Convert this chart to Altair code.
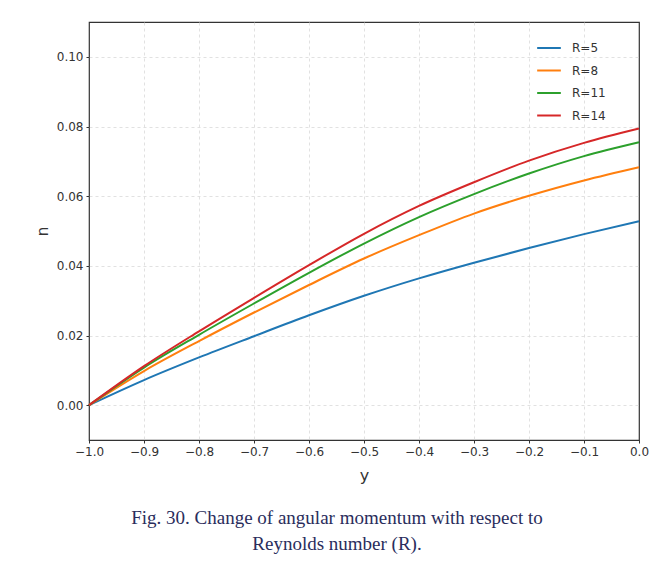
import altair as alt
import pandas as pd

y_vals = [-1.0, -0.9, -0.8, -0.7, -0.6, -0.5, -0.4, -0.3, -0.2, -0.1, 0.0]
n_R5 = [0.0, 0.0072, 0.0137, 0.0198, 0.0258, 0.0314, 0.0364, 0.0409, 0.0451, 0.0491, 0.0528]
n_R8 = [0.0, 0.0098, 0.0184, 0.0266, 0.0345, 0.0421, 0.0488, 0.0550, 0.0601, 0.0645, 0.0683]
n_R11 = [0.0, 0.0108, 0.0202, 0.0292, 0.0380, 0.0464, 0.0540, 0.0606, 0.0665, 0.0715, 0.0755]
n_R14 = [0.0, 0.0112, 0.0212, 0.0308, 0.0402, 0.0492, 0.0572, 0.0640, 0.0702, 0.0753, 0.0794]
series = ["R=5", "R=8", "R=11", "R=14"]
colors = ["#1f77b4", "#ff7f0e", "#2ca02c", "#d62728"]
x_ticks = [-1.0, -0.9, -0.8, -0.7, -0.6, -0.5, -0.4, -0.3, -0.2, -0.1, 0.0]
y_ticks = [0.0, 0.02, 0.04, 0.06, 0.08, 0.10]

rows = []
for name, vals in zip(series, [n_R5, n_R8, n_R11, n_R14]):
    for xv, nv in zip(y_vals, vals):
        rows.append({"y": xv, "n": nv, "R": name})
df = pd.DataFrame(rows)

edge_grid = {"condition": {"test": "datum.value <= -0.99 || datum.value >= -0.001", "value": 0}, "value": 1}

chart = alt.Chart(df).mark_line(strokeWidth=2, interpolate="monotone").encode(
    x=alt.X("y:Q", title="y",
            scale=alt.Scale(domain=[-1.0, 0.0], nice=False, zero=False),
            axis=alt.Axis(values=x_ticks, format=".1f", labelFlush=False, gridOpacity=edge_grid,
                          labelExpr="replace(datum.label, '-', '\u2212')")),
    y=alt.Y("n:Q", title="n",
            scale=alt.Scale(domain=[-0.01, 0.11], nice=False, zero=False),
            axis=alt.Axis(values=y_ticks, format=".2f", labelFlush=False)),
    color=alt.Color("R:N", sort=series,
                    scale=alt.Scale(domain=series, range=colors),
                    legend=alt.Legend(title=None, orient="none", legendX=447, legendY=13,
                                      symbolType="stroke", symbolSize=560, symbolStrokeWidth=2,
                                      labelFontSize=12, labelColor="#333333", labelFont="DejaVu Sans",
                                      rowPadding=3.5, labelOffset=10)),
).properties(
    width=550, height=418,
    title=alt.TitleParams(
        text=["Fig. 30. Change of angular momentum with respect to", "Reynolds number (R)."],
        orient="bottom", anchor="middle", dx=-27, offset=26,
        font="Liberation Serif", fontSize=19, fontWeight="normal", color="#2a2d5c", lineHeight=26),
    autosize=alt.AutoSizeParams(type="none"),
    padding={"left": 81, "top": 14, "right": 18, "bottom": 120},
).configure(
    background="white"
).configure_view(
    stroke="#333333", strokeWidth=1.2
).configure_axis(
    grid=True, gridColor="#d9d9d9", gridDash=[3, 3], gridWidth=0.8,
    domain=False, ticks=True, tickSize=3, tickColor="#333333",
    labelFont="DejaVu Sans", labelFontSize=12, labelColor="#333333", labelPadding=3,
    titleFont="DejaVu Sans", titleFontWeight="normal", titleColor="#333333",
).configure_axisX(
    titleFontSize=16, titlePadding=10
).configure_axisY(
    titleFontSize=15, titlePadding=6
)

chart.save("out.html", embed_options={"renderer": "svg", "actions": False})
